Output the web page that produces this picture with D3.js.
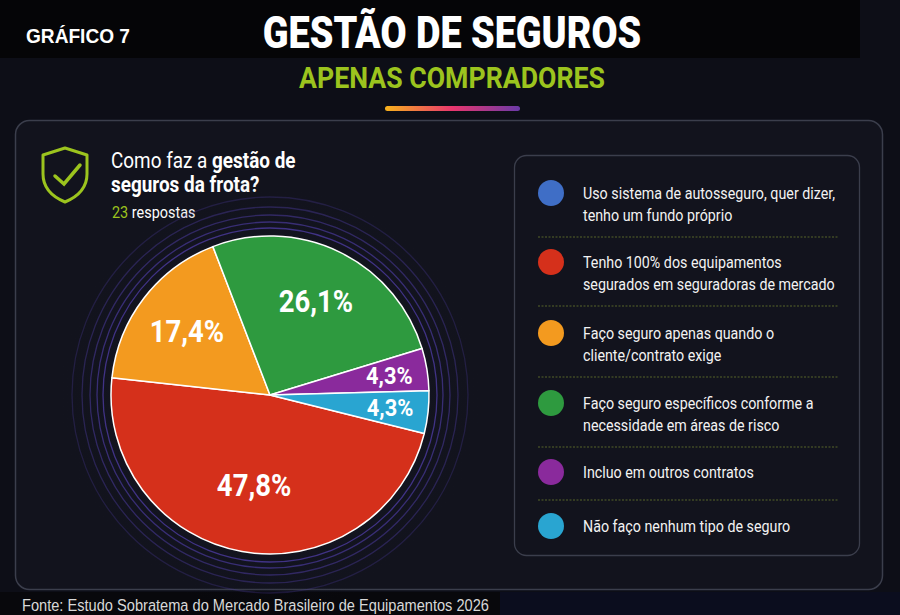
<!DOCTYPE html>
<html>
<head>
<meta charset="utf-8">
<script src="https://cdn.jsdelivr.net/npm/d3@7/dist/d3.min.js"></script>
<style>
  html, body { margin: 0; padding: 0; background: #0b0c14; }
  svg { display: block; }
</style>
</head>
<body>
<div id="chart"></div>
<script>
// dados do gráfico
var categories = [
	["Uso sistema de autosseguro, quer dizer,", "tenho um fundo próprio"],
	["Tenho 100% dos equipamentos", "segurados em seguradoras de mercado"],
	["Faço seguro apenas quando o", "cliente/contrato exige"],
	["Faço seguro específicos conforme a", "necessidade em áreas de risco"],
	["Incluo em outros contratos"],
	["Não faço nenhum tipo de seguro"]
];
var percents = [0, 47.8, 17.4, 26.1, 4.3, 4.3];
var colors = ["#3f6ec6", "#d5301b", "#f39a1f", "#2e9a3f", "#8a2a9c", "#29a5d1"];
var totalRespostas = 23;

var W = 900, H = 615;
var FONT = "Roboto, 'Noto Sans', sans-serif";
var GREEN = "#9cc41e";

var svg = d3.select("#chart").append("svg")
	.attr("width", W)
	.attr("height", H);

var defs = svg.append("defs");
var grad = defs.append("linearGradient").attr("id", "bar");
grad.append("stop").attr("offset", "0%").attr("stop-color", "#f7b21c");
grad.append("stop").attr("offset", "50%").attr("stop-color", "#e8366e");
grad.append("stop").attr("offset", "100%").attr("stop-color", "#6a3aa8");

var glow = defs.append("radialGradient").attr("id", "glow");
glow.append("stop").attr("offset", "0%").attr("stop-color", "#1d2040").attr("stop-opacity", 0.9);
glow.append("stop").attr("offset", "100%").attr("stop-color", "#12131d").attr("stop-opacity", 0);

// fundo
svg.append("rect").attr("width", W).attr("height", H).attr("fill", "#0d0e17");
svg.append("rect").attr("width", 860).attr("height", 58).attr("fill", "#050507");
svg.append("rect").attr("y", 592).attr("width", W).attr("height", 23).attr("fill", "#0b0d1e");
svg.append("rect").attr("y", 592).attr("width", 500).attr("height", 23).attr("fill", "#08080c");

// texto "condensado": escala horizontal
var ctext = function (parent, x, y, k, anchor) {
	return parent.append("g")
		.attr("transform", "translate(" + x + "," + y + ") scale(" + k + ",1)")
		.append("text")
		.attr("text-anchor", anchor || "start")
		.attr("font-family", FONT);
};

ctext(svg, 26, 43, 0.91)
	.attr("font-family", "'Liberation Sans', Arial, sans-serif")
	.attr("font-size", 21).attr("font-weight", 700).attr("fill", "#fff")
	.text("GRÁFICO 7");

ctext(svg, 452, 48, 0.86, "middle")
	.attr("font-size", 44).attr("font-weight", 900).attr("fill", "#fff")
	.text("GESTÃO DE SEGUROS");

ctext(svg, 452, 88, 0.89, "middle")
	.attr("font-size", 30).attr("font-weight", 700).attr("fill", GREEN)
	.text("APENAS COMPRADORES");

svg.append("rect")
	.attr("x", 385).attr("y", 106).attr("width", 135).attr("height", 5)
	.attr("rx", 2.5).attr("fill", "url(#bar)");

// painel principal
svg.append("rect")
	.attr("x", 15.5).attr("y", 120.5).attr("width", 867).attr("height", 469)
	.attr("rx", 14).attr("fill", "#12131d").attr("stroke", "#3b3e4c").attr("stroke-width", 1.5);

// escudo
svg.append("path")
	.attr("d", "M65,148 L87,155 L87,174 C87,189 77,197 65,202 C53,197 43,189 43,174 L43,155 Z")
	.attr("fill", "none").attr("stroke", GREEN).attr("stroke-width", 3).attr("stroke-linejoin", "round");
svg.append("path")
	.attr("d", "M55,176 L64,184 L80,165")
	.attr("fill", "none").attr("stroke", GREEN).attr("stroke-width", 3.5).attr("stroke-linecap", "round");

var q1 = ctext(svg, 111, 168, 0.86).attr("font-size", 22).attr("fill", "#fff");
q1.append("tspan").text("Como faz a ");
q1.append("tspan").attr("font-weight", 700).text("gestão de");
ctext(svg, 111, 192, 0.86).attr("font-size", 22).attr("font-weight", 700).attr("fill", "#fff")
	.text("seguros da frota?");
var q3 = ctext(svg, 112, 218, 0.85).attr("font-size", 17).attr("fill", "#fff");
q3.append("tspan").attr("fill", GREEN).text(totalRespostas);
q3.append("tspan").text(" respostas");

// pizza
var cx = 270, cy = 395, R = 159;
var g = svg.append("g").attr("transform", "translate(" + cx + "," + cy + ")");

g.append("circle").attr("r", 215).attr("fill", "url(#glow)");
[167, 173, 180, 188, 198].forEach(function (r, i) {
	g.append("circle").attr("r", r)
		.attr("fill", "none")
		.attr("stroke", "#5440b0")
		.attr("stroke-opacity", 0.7 - i * 0.11)
		.attr("stroke-width", 1.3);
});

var rows = percents.map(function (p, i) {
	return { label: categories[i], value: p, color: colors[i] };
});

var pie = d3.pie()
	.sort(null)
	.value(function (d) { return d.value; })
	.startAngle(104 * Math.PI / 180)
	.endAngle((104 + 360) * Math.PI / 180);

var arc = d3.arc().innerRadius(0).outerRadius(R);
var arcs = pie(rows).filter(function (d) { return d.data.value > 0; });

g.selectAll("path.slice")
	.data(arcs)
	.enter()
	.append("path")
	.attr("class", "slice")
	.attr("d", arc)
	.attr("fill", function (d) { return d.data.color; })
	.attr("stroke", "#fff")
	.attr("stroke-width", 1.5)
	.attr("stroke-linejoin", "round");

var fmt = function (v) { return d3.format(".1f")(v).replace(".", ",") + "%"; };

arcs.forEach(function (d) {
	var small = d.data.value < 10;
	var lr = small ? R * 0.76 : (d.data.value > 40 ? R * 0.57 : R * 0.66);
	var la = d3.arc().innerRadius(lr).outerRadius(lr);
	var c = la.centroid(d);
	var fs = small ? 23 : 32;
	ctext(g, c[0], c[1] + fs * 0.36, small ? 0.95 : 0.86, "middle")
		.attr("font-size", fs)
		.attr("font-weight", 700)
		.attr("fill", "#fff")
		.text(fmt(d.data.value));
});

// legenda
svg.append("rect")
	.attr("x", 514.5).attr("y", 155.5).attr("width", 345).attr("height", 400)
	.attr("rx", 12).attr("fill", "#12131d").attr("stroke", "#3b3e4c").attr("stroke-width", 1.3);

var rowY = [193, 262, 333, 403, 472, 526];
var sepY = [237, 306, 377, 447, 500];

sepY.forEach(function (y) {
	svg.append("line")
		.attr("x1", 538).attr("x2", 839).attr("y1", y).attr("y2", y)
		.attr("stroke", "#56642a").attr("stroke-width", 1)
		.attr("stroke-dasharray", "2,1.5");
});

var leg = svg.selectAll("g.leg")
	.data(rows)
	.enter()
	.append("g")
	.attr("class", "leg")
	.attr("transform", function (d, i) { return "translate(0," + rowY[i] + ")"; });

leg.append("circle")
	.attr("cx", 551).attr("cy", 0).attr("r", 13)
	.attr("fill", function (d) { return d.color; });

leg.each(function (d) {
	var el = d3.select(this);
	d.label.forEach(function (line, j) {
		ctext(el, 583, 5.5 + j * 22.5, 0.84)
			.attr("font-size", 17)
			.attr("fill", "#f2f2f2")
			.text(line);
	});
});

// fonte
ctext(svg, 22, 611, 0.86)
	.attr("font-family", "'Liberation Sans', Arial, sans-serif")
	.attr("font-size", 17)
	.attr("fill", "#d8d8d8")
	.text("Fonte: Estudo Sobratema do Mercado Brasileiro de Equipamentos 2026");
</script>
</body>
</html>
